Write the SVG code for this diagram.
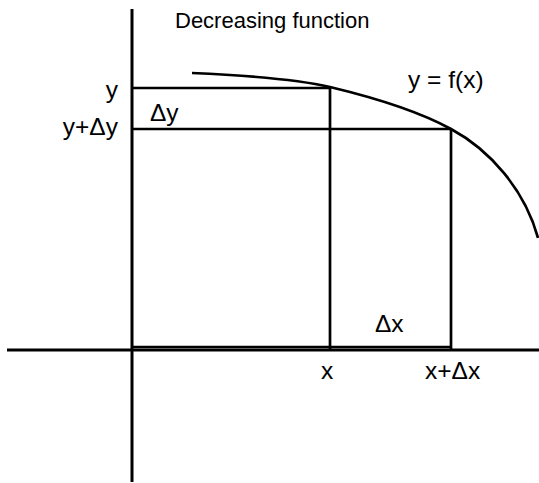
<svg xmlns="http://www.w3.org/2000/svg" width="539" height="483" viewBox="0 0 539 483">
<style>
.ln{stroke:#000;stroke-width:2.7;fill:none}
.ax{stroke:#000;stroke-width:3;fill:none}
text{font-family:"Liberation Sans",Arial,sans-serif;font-size:24.5px;fill:#000}
.t{font-size:22px}
</style>
<rect width="539" height="483" fill="#fff"/>
<g id="axes">
<line class="ax" x1="132" y1="9" x2="132" y2="482"/>
<line class="ax" x1="7" y1="350" x2="539" y2="350"/>
</g>
<g id="connectors">
<line class="ln" x1="132" y1="88" x2="330" y2="88"/>
<line class="ln" x1="132" y1="129" x2="451" y2="129"/>
<line class="ln" x1="330" y1="87" x2="330" y2="349"/>
<line class="ln" x1="451" y1="129" x2="451" y2="349"/>
<line class="ln" x1="132" y1="347" x2="451" y2="347"/>
</g>
<g id="curve">
<path class="ln" d="M192,73 C260,76 300,80 330,87 C380,99 420,112 451,129 C490,150 525,190 538,238"/>
</g>
<g id="labels">
<text class="t" x="175" y="28">Decreasing function</text>
<text x="118" y="98" text-anchor="end">y</text>
<text x="118" y="135" text-anchor="end">y+Δy</text>
<text x="150" y="121">Δy</text>
<text x="408" y="88">y = f(x)</text>
<text x="375" y="332">Δx</text>
<text x="321" y="379">x</text>
<text x="425" y="379">x+Δx</text>
</g>
</svg>
